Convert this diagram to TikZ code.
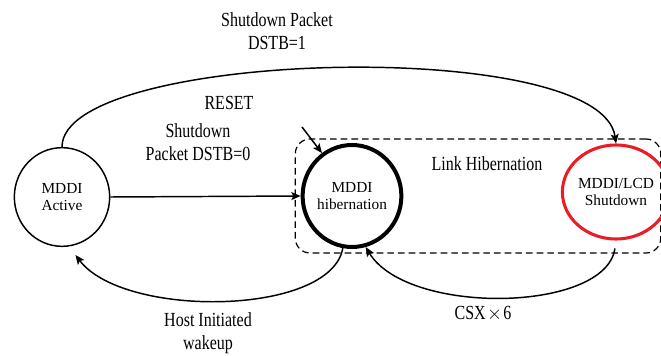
\documentclass[tikz,border=0pt]{standalone}
\usepackage{fontspec}
\setmainfont{Liberation Serif}
\newfontfamily\lblfont[FakeStretch=0.8]{Liberation Serif}
\usetikzlibrary{shapes.geometric, arrows.meta, positioning}
\definecolor{mydark}{RGB}{0,0,0}
\definecolor{myred}{RGB}{236,28,36}
\tikzset{
  state/.style={ellipse, draw=mydark, inner sep=0pt, align=center,
    font=\fontsize{11.5}{13}\selectfont, line width=1.1pt,
    minimum width=71.5pt, minimum height=74pt},
  hibstate/.style={state, line width=3pt,
    minimum width=72pt, minimum height=76.5pt},
  shutstate/.style={state, draw=myred, line width=2.3pt,
    minimum width=66pt, minimum height=70.5pt},
  hibbox/.style={rectangle, draw=mydark, dash pattern=on 5pt off 3pt,
    rounded corners=11pt, line width=0.9pt,
    minimum width=274pt, minimum height=85.5pt},
  lbl/.style={align=center, font=\lblfont\fontsize{15}{17.5}\selectfont},
  arrow/.style={-{Stealth[length=7pt, width=6pt, inset=1.5pt]}, line width=1.1pt, color=mydark}
}
\begin{document}
\begin{tikzpicture}[x=0.75pt, y=-0.75pt]
  \useasboundingbox (0,0) rectangle (661,356);
  % Link hibernation region
  \node[hibbox] (lhbox) at (478,196) {};
  \node[lbl] (lh) at (487,164) {Link Hibernation};

  \node[state] (act) at (62,197) {MDDI\\Active};
  \node[hibstate] (hib) at (352,196) {MDDI\\hibernation};
  \node[shutstate] (shut) at (616,192) {MDDI/LCD\\Shutdown};

  \node[lbl] (pkt1) at (277,31) {Shutdown Packet\\DSTB=1};
  \node[lbl] (rlab) at (229,103) {RESET};
  \node[lbl] (pkt0) at (198,142) {Shutdown\\Packet DSTB=0};
  \node[lbl] (wake) at (208,333) {Host Initiated\\wakeup};
  \node[lbl] (csx) at (483,314) {CSX\hspace{1pt}$\times$\hspace{1pt}6};
  \coordinate (rst) at (302,127);

  \draw[arrow] (act.north) .. controls +(0,-97) and +(-15,-108) .. (shut.north);
  \draw[arrow] (act.east) -- (hib.west);
  \draw[arrow] (rst) -- (hib.125);
  % wakeup and CSX returns
  \draw[arrow, shorten >=8pt] (hib.-100) .. controls +(-12,68) and +(55,72) .. (act.-82);
  \draw[arrow, shorten <=6pt] (shut.south) .. controls +(-10,72) and +(42,69) .. (hib.-75);
\end{tikzpicture}
\end{document}
